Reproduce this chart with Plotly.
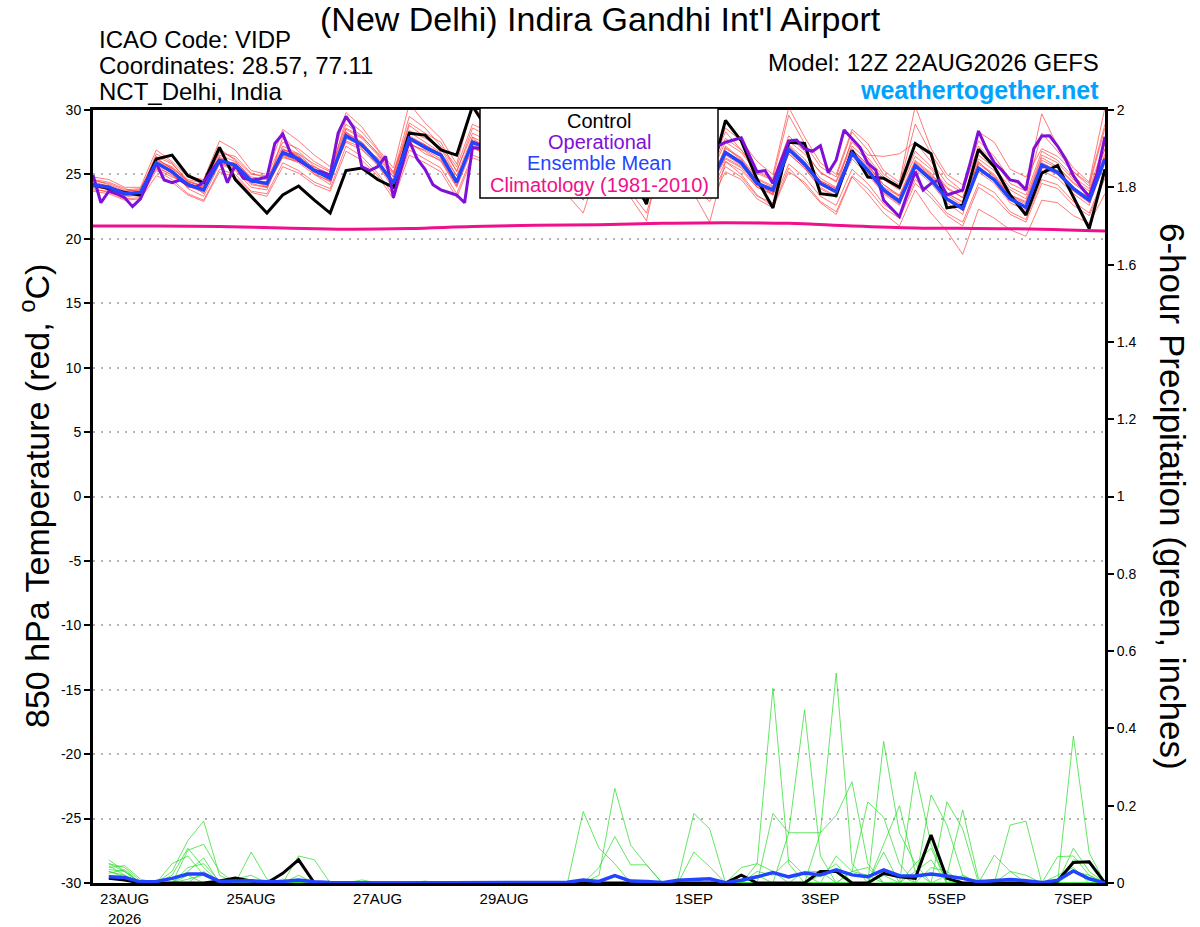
import pandas as pd
import plotly.graph_objects as go

# time axes: GEFS 6-hourly, operational GFS 3-hourly
times = pd.date_range("2026-08-22 12:00", "2026-09-07 12:00", freq="6h")
times_op = pd.date_range("2026-08-22 12:00", "2026-09-07 12:00", freq="3h")
precip_times = times[1:]
clim_times = times[::4]

tick_vals = ["2026-08-23", "2026-08-25", "2026-08-27", "2026-08-29",
             "2026-09-01", "2026-09-03", "2026-09-05", "2026-09-07"]
tick_text = ["23AUG<br>2026", "25AUG", "27AUG", "29AUG",
             "1SEP", "3SEP", "5SEP", "7SEP"]
temp_ticks = [-30, -25, -20, -15, -10, -5, 0, 5, 10, 15, 20, 25, 30]
temp_tick_text = ["-30", "-25", "-20", "-15", "-10", "-5", "0", "5", "10", "15", "20", "25", "30"]

# 850 hPa temperature (C)
control_t = [24.2, 23.9, 23.6, 23.4, 26.2, 26.5, 24.9, 24.35, 27.1, 24.6, 23.3, 22.0,
             23.4, 24.1, 23.0, 22.0, 25.3, 25.5, 24.6, 24.0, 28.2, 28.05, 26.9, 26.5,
             30.3, 28.4, 26.8, 24.9, 28.5, 27.3, 26.0, 24.4, 28.0, 26.6, 25.2, 22.7,
             27.6, 26.9, 25.5, 24.6, 29.2, 27.6, 24.6, 22.4, 27.5, 27.4, 23.5, 23.35,
             26.85, 24.8, 24.7, 24.0, 27.4, 26.6, 22.4, 22.6, 26.95, 25.6, 23.4, 21.85,
             25.1, 25.7, 23.3, 20.8, 25.4]

mean_t = [24.2, 24.0, 23.5, 23.6, 25.9, 25.2, 24.2, 23.8, 26.1, 25.7, 24.5, 24.3,
          26.7, 26.2, 25.3, 24.7, 28.0, 27.3, 26.0, 24.3, 27.8, 27.1, 26.5, 24.4,
          27.5, 27.0, 25.8, 24.6, 27.4, 26.6, 25.4, 24.3, 27.1, 26.3, 25.0, 24.1,
          27.2, 26.4, 25.2, 24.2, 26.7, 25.9, 24.3, 23.8, 26.95, 25.8, 24.3, 23.66,
          26.64, 25.34, 23.8, 22.9, 25.68, 24.6, 23.1, 22.35, 25.47, 24.57, 23.1, 22.45,
          25.73, 25.15, 23.9, 23.0, 26.2]

oper_t = [24.95, 22.8, 23.7, 23.5, 23.2, 22.5, 23.1, 24.5, 25.86, 24.57, 24.36, 24.57,
          24.2, 24.0, 24.4, 25.3, 26.12, 24.36, 25.73, 24.7, 24.57, 24.64, 24.8, 27.4,
          28.14, 26.64, 26.1, 25.7, 25.3, 25.2, 24.95, 28.2, 29.5, 28.6, 25.6, 25.3,
          25.6, 26.4, 23.2, 25.5, 27.6, 26.2, 25.4, 24.2, 23.8, 23.6, 23.4, 22.8,
          27.1, 27.0, 26.5, 25.8, 25.6, 25.0, 24.6, 26.0, 27.8, 27.4, 26.8, 26.0,
          25.6, 25.2, 24.5, 26.3, 28.2, 27.5, 26.9, 26.4, 25.8, 25.3, 24.6, 25.9,
          27.6, 27.0, 26.6, 26.0, 25.5, 25.0, 25.8, 27.2, 27.5, 27.67, 27.85, 26.5,
          25.2, 25.3, 24.3, 26.0, 27.6, 27.67, 27.0, 26.8, 27.23, 25.13, 26.12, 28.45,
          27.8, 27.1, 25.86, 25.34, 23.0, 22.4, 21.72, 23.5, 25.21, 23.79, 24.3, 24.57,
          23.4, 23.6, 23.79, 26.0, 28.37, 27.0, 25.9, 25.3, 24.57, 24.44, 23.79, 27.0,
          27.98, 28.0, 27.2, 26.2, 24.9, 24.0, 23.27, 25.08, 27.93]

clim_t = [21.0, 21.0, 20.95, 20.85, 20.75, 20.8, 20.95, 21.05, 21.1,
          21.2, 21.25, 21.2, 21.0, 20.85, 20.8, 20.75, 20.6]

members_t = [
    [24.5, 24.3, 23.8, 23.9, 26.4, 25.8, 24.6, 24.3, 26.8, 26.2, 25.0, 24.9,
     27.5, 27.0, 26.0, 25.3, 28.9, 28.0, 26.6, 25.0, 29.0, 28.2, 27.5, 25.2,
     28.6, 28.0, 26.7, 25.5, 28.3, 27.5, 26.3, 25.2, 28.0, 27.2, 25.9, 24.8,
     28.1, 27.2, 26.0, 25.1, 27.8, 26.9, 25.2, 24.6, 28.0, 26.8, 25.1, 24.5,
     27.5, 26.3, 24.8, 23.9, 26.8, 25.6, 24.0, 23.2, 26.5, 25.5, 24.0, 23.4,
     26.8, 26.1, 24.8, 23.9, 27.4],
    [23.9, 23.6, 23.1, 23.2, 25.3, 24.6, 23.5, 23.0, 25.4, 25.0, 23.7, 23.5,
     25.9, 25.3, 24.4, 23.9, 27.2, 26.4, 25.1, 23.4, 26.9, 26.2, 25.5, 23.5,
     26.5, 26.0, 24.8, 23.6, 26.5, 25.7, 24.5, 23.3, 26.0, 25.2, 24.0, 23.1,
     26.2, 25.5, 24.2, 23.2, 25.6, 24.8, 23.3, 22.8, 25.8, 24.8, 23.3, 22.6,
     25.4, 24.3, 22.7, 21.8, 24.6, 23.5, 22.0, 21.3, 24.3, 23.6, 22.1, 21.5,
     24.6, 24.2, 22.9, 22.0, 25.0],
    [24.0, 23.9, 23.4, 23.3, 26.0, 25.5, 24.4, 23.5, 26.4, 25.5, 24.2, 24.0,
     27.0, 26.4, 25.0, 24.2, 28.3, 27.5, 26.2, 24.0, 27.4, 26.8, 26.0, 24.0,
     27.0, 26.6, 25.2, 23.9, 27.0, 26.1, 24.6, 23.6, 26.5, 25.6, 24.2, 23.0,
     26.6, 25.8, 24.5, 23.4, 26.0, 25.0, 23.4, 22.5, 25.5, 24.2, 22.8, 21.9,
     24.8, 23.5, 22.0, 21.0, 23.8, 22.0, 20.6, 18.8, 22.3, 21.6, 20.7, 20.2,
     23.0, 22.8, 21.8, 21.2, 23.5],
    [24.8, 24.6, 24.0, 24.0, 26.9, 26.0, 24.8, 24.6, 27.6, 26.9, 25.3, 25.0,
     28.5, 27.6, 26.5, 25.6, 29.8, 28.7, 27.0, 25.5, 30.5, 29.0, 27.8, 25.8,
     30.4, 28.9, 27.2, 25.8, 29.2, 28.2, 26.9, 25.6, 28.8, 27.6, 26.2, 25.0,
     28.7, 27.8, 26.5, 25.5, 28.6, 27.6, 26.0, 25.0, 30.2, 27.9, 25.9, 25.0,
     28.5, 27.4, 25.3, 24.4, 30.3, 27.0, 25.0, 24.2, 27.6, 26.4, 24.6, 24.0,
     29.7, 27.2, 25.5, 24.4, 30.2],
    [24.3, 24.1, 23.3, 23.7, 25.5, 25.0, 24.0, 23.9, 26.0, 25.9, 24.7, 24.1,
     26.3, 26.0, 25.6, 24.9, 27.6, 27.1, 26.3, 24.8, 28.3, 27.5, 26.7, 24.9,
     27.9, 27.3, 26.1, 24.9, 27.6, 26.8, 25.6, 24.6, 27.4, 26.5, 25.3, 24.4,
     27.5, 26.7, 25.4, 24.5, 27.0, 26.3, 24.7, 24.1, 27.3, 26.2, 24.7, 24.0,
     26.9, 25.6, 24.2, 23.3, 26.0, 25.0, 23.5, 22.9, 25.9, 25.0, 23.4, 22.8,
     26.1, 25.5, 24.3, 23.4, 26.6],
    [24.1, 23.8, 23.6, 23.4, 26.3, 25.4, 23.9, 23.3, 25.8, 25.3, 24.0, 23.8,
     26.9, 26.5, 25.1, 24.4, 28.3, 27.0, 25.7, 23.9, 27.5, 26.6, 26.1, 24.1,
     27.9, 26.7, 25.4, 24.2, 27.0, 26.3, 25.0, 23.9, 27.6, 26.7, 25.3, 24.3,
     26.8, 26.1, 24.9, 23.8, 27.2, 26.2, 24.5, 23.4, 26.6, 25.5, 23.9, 23.2,
     26.9, 25.8, 24.0, 23.3, 25.4, 24.3, 22.8, 21.9, 25.8, 24.9, 23.3, 22.7,
     25.3, 24.7, 23.5, 22.6, 26.0],
    [24.6, 24.2, 23.7, 23.8, 26.1, 25.6, 24.5, 24.0, 26.5, 26.0, 24.8, 24.6,
     27.2, 26.6, 25.4, 24.9, 28.5, 27.8, 26.5, 24.8, 28.8, 27.9, 27.0, 24.9,
     27.2, 26.3, 24.8, 23.4, 26.0, 24.8, 23.4, 22.0, 25.8, 24.6, 23.2, 21.4,
     26.9, 26.2, 25.0, 24.0, 26.2, 25.5, 24.0, 23.4, 26.6, 25.5, 24.0, 23.3,
     27.0, 25.7, 24.2, 23.4, 26.1, 25.1, 23.6, 22.8, 26.0, 24.8, 23.4, 22.9,
     26.3, 25.6, 24.4, 23.5, 27.0],
    [23.8, 23.7, 23.2, 23.5, 25.7, 24.9, 24.1, 23.6, 26.3, 25.6, 24.3, 24.0,
     26.4, 25.9, 25.0, 24.5, 27.8, 27.2, 25.9, 24.5, 27.3, 26.9, 26.2, 24.2,
     27.6, 27.2, 26.0, 24.9, 27.8, 26.9, 25.7, 24.6, 26.8, 26.0, 24.8, 23.9,
     27.6, 26.7, 25.6, 24.5, 26.5, 25.7, 24.1, 23.6, 26.8, 25.6, 24.2, 23.5,
     26.2, 25.0, 23.5, 22.6, 25.9, 24.9, 23.4, 22.6, 25.2, 24.3, 22.8, 22.2,
     25.9, 25.3, 24.0, 23.2, 26.4],
    [24.4, 24.1, 23.6, 23.5, 25.8, 25.1, 24.0, 23.9, 26.2, 25.8, 24.6, 24.2,
     26.5, 26.1, 25.3, 24.5, 28.1, 27.4, 26.1, 24.4, 27.6, 27.2, 26.6, 24.6,
     27.7, 27.1, 25.9, 24.5, 27.3, 26.5, 25.3, 24.1, 26.4, 25.3, 23.6, 22.0,
     25.9, 25.0, 23.5, 21.3, 26.0, 25.3, 24.0, 23.5, 27.1, 26.0, 24.4, 23.8,
     26.7, 25.4, 23.9, 23.1, 25.6, 24.5, 23.0, 22.2, 25.6, 24.7, 23.2, 22.3,
     25.5, 25.0, 23.7, 22.8, 26.1],
    [24.0, 23.9, 23.5, 23.7, 25.4, 24.8, 24.3, 24.0, 25.9, 25.4, 24.4, 24.4,
     26.8, 26.3, 25.2, 24.8, 27.5, 26.9, 25.8, 24.6, 27.9, 27.3, 26.4, 24.5,
     27.3, 26.8, 25.6, 24.8, 27.5, 26.7, 25.5, 24.5, 27.3, 26.6, 25.2, 24.2,
     27.4, 26.5, 25.3, 24.3, 26.3, 25.6, 24.4, 23.9, 27.0, 25.9, 24.5, 23.9,
     26.4, 25.1, 23.6, 22.7, 25.8, 24.8, 23.2, 22.5, 25.4, 24.5, 23.0, 22.5,
     25.8, 25.2, 24.0, 23.1, 26.3],
    [24.2, 24.1, 23.5, 23.6, 26.0, 25.3, 24.3, 23.7, 26.0, 25.6, 24.4, 24.3,
     26.6, 26.4, 25.5, 24.6, 28.2, 27.5, 26.2, 24.2, 28.0, 27.3, 26.6, 24.3,
     27.4, 26.9, 25.7, 24.7, 27.1, 26.4, 25.2, 24.4, 27.3, 26.4, 25.1, 24.0,
     27.0, 26.3, 25.1, 24.1, 27.1, 26.1, 24.6, 24.0, 27.2, 26.0, 24.5, 23.9,
     27.8, 26.5, 26.4, 26.6, 27.5, 26.0, 24.3, 23.6, 28.3, 27.5, 25.4, 24.8,
     27.0, 26.4, 25.2, 24.3, 28.9],
    [24.3, 23.9, 23.4, 23.4, 25.9, 25.4, 24.1, 23.7, 25.9, 25.5, 24.5, 24.2,
     26.5, 26.0, 25.2, 24.7, 27.9, 27.3, 25.8, 24.1, 27.9, 27.0, 26.4, 24.4,
     27.4, 26.9, 25.8, 24.7, 27.2, 26.5, 25.4, 24.3, 27.2, 26.4, 25.1, 24.2,
     27.3, 26.3, 25.1, 24.2, 26.8, 26.0, 24.2, 23.6, 26.9, 25.7, 24.4, 23.7,
     26.6, 25.3, 23.7, 22.9, 25.6, 24.6, 23.1, 22.4, 25.6, 24.6, 23.2, 22.5,
     25.8, 25.2, 23.9, 23.0, 26.2],
    [24.6, 24.4, 23.9, 23.6, 26.6, 25.9, 24.4, 24.1, 27.0, 26.1, 24.6, 24.0,
     27.9, 26.8, 25.6, 25.0, 29.3, 28.3, 26.9, 25.1, 29.5, 28.6, 27.2, 25.6,
     28.9, 28.3, 26.6, 25.2, 29.0, 27.9, 26.5, 25.4, 28.4, 27.5, 26.0, 25.1,
     28.6, 27.7, 26.4, 25.4, 28.3, 26.9, 25.3, 24.7, 29.6, 27.4, 25.6, 24.8,
     28.3, 26.9, 25.0, 24.2, 28.9, 26.6, 24.7, 23.7, 27.2, 26.0, 24.3, 23.7,
     28.2, 26.8, 25.2, 24.1, 28.6],
    [23.7, 23.5, 23.0, 23.1, 24.9, 24.4, 23.4, 22.9, 25.2, 24.8, 23.6, 23.3,
     25.6, 25.1, 24.2, 23.7, 26.8, 26.1, 24.9, 23.1, 26.5, 25.9, 25.2, 23.2,
     26.3, 25.8, 24.6, 23.2, 26.2, 25.4, 24.2, 23.0, 25.7, 25.0, 23.8, 22.8,
     25.9, 25.2, 24.0, 22.9, 25.2, 24.6, 23.1, 22.4, 25.2, 24.4, 22.9, 22.1,
     24.9, 23.9, 22.4, 21.6, 24.3, 23.2, 21.8, 21.0, 24.0, 23.2, 21.9, 21.3,
     24.3, 23.9, 22.6, 21.8, 24.7],
    [24.2, 24.0, 23.7, 23.8, 26.2, 25.5, 24.5, 24.1, 26.7, 26.4, 25.1, 24.7,
     26.9, 26.6, 25.8, 25.2, 28.6, 27.9, 26.7, 25.2, 28.4, 27.8, 27.1, 25.3,
     28.2, 27.6, 26.4, 25.3, 28.0, 27.2, 26.0, 25.0, 27.8, 26.9, 25.6, 24.8,
     27.9, 27.1, 25.8, 24.9, 27.5, 26.7, 25.1, 24.5, 27.6, 26.6, 25.2, 24.4,
     27.2, 26.1, 24.6, 23.8, 26.4, 25.4, 23.9, 23.2, 26.2, 25.3, 23.8, 23.1,
     26.5, 25.9, 24.6, 23.7, 27.0],
]

# 6-hour precipitation (inches), from 22AUG 18Z
control_p = [0.012, 0.008, 0, 0, 0, 0, 0, 0.005, 0.013, 0.005, 0, 0.025,
             0.06, 0, 0, 0, 0, 0, 0, 0, 0, 0, 0, 0,
             0, 0, 0, 0, 0, 0, 0, 0, 0, 0, 0, 0,
             0, 0, 0, 0, 0.02, 0, 0, 0, 0, 0.03, 0.03, 0,
             0, 0.025, 0.016, 0.012, 0.124, 0.012, 0, 0, 0, 0, 0, 0,
             0.005, 0.053, 0.055, 0]

mean_p = [0.016, 0.014, 0.003, 0.004, 0.012, 0.023, 0.023, 0.004, 0.005, 0.006, 0.003, 0.004,
          0.008, 0.003, 0.001, 0, 0.001, 0, 0, 0, 0.001, 0, 0, 0,
          0, 0, 0, 0, 0, 0.002, 0.008, 0.004, 0.019, 0.005, 0.004, 0.001,
          0.007, 0.01, 0.011, 0.001, 0.007, 0.016, 0.027, 0.016, 0.026, 0.021, 0.034, 0.021,
          0.016, 0.034, 0.019, 0.018, 0.023, 0.018, 0.012, 0.003, 0.006, 0.009, 0.006, 0.001,
          0.007, 0.031, 0.011, 0]

members_p = [
    [0.06, 0.03, 0, 0, 0.03, 0.11, 0.16, 0.02, 0, 0, 0, 0,
     0, 0, 0, 0, 0, 0, 0, 0, 0, 0, 0, 0,
     0, 0, 0, 0, 0, 0, 0.185, 0.09, 0.05, 0, 0, 0,
     0, 0, 0, 0, 0, 0.05, 0.504, 0.05, 0, 0, 0, 0,
     0, 0.02, 0, 0.288, 0.1, 0, 0, 0, 0, 0, 0, 0,
     0, 0.09, 0.03, 0],
    [0.05, 0.04, 0.005, 0, 0, 0.085, 0.1, 0.03, 0, 0.08, 0.01, 0,
     0, 0, 0, 0, 0, 0, 0, 0, 0, 0, 0, 0,
     0, 0, 0, 0, 0, 0, 0, 0.02, 0.245, 0.098, 0.047, 0,
     0, 0, 0, 0, 0, 0, 0, 0.13, 0.448, 0.07, 0, 0,
     0, 0.366, 0.13, 0.05, 0, 0, 0, 0, 0, 0.15, 0.16, 0,
     0, 0, 0, 0],
    [0.04, 0.045, 0.01, 0, 0.05, 0.07, 0.02, 0, 0, 0, 0, 0,
     0.07, 0.06, 0, 0, 0, 0, 0, 0, 0, 0, 0, 0,
     0, 0, 0, 0, 0, 0, 0, 0, 0, 0, 0, 0,
     0.01, 0.18, 0.14, 0, 0, 0, 0, 0, 0, 0.13, 0.543, 0.05,
     0, 0, 0, 0, 0, 0.21, 0.14, 0, 0, 0, 0, 0,
     0, 0.38, 0.078, 0],
    [0.03, 0.02, 0, 0, 0, 0.04, 0.05, 0.005, 0, 0, 0, 0,
     0, 0, 0, 0, 0, 0, 0, 0, 0, 0, 0, 0,
     0, 0, 0, 0, 0, 0, 0, 0.04, 0.12, 0.047, 0.047, 0,
     0, 0, 0, 0, 0, 0, 0.18, 0.13, 0.13, 0.13, 0.175, 0.262,
     0.05, 0, 0, 0, 0, 0.02, 0.189, 0.01, 0, 0, 0, 0,
     0, 0, 0, 0],
    [0.035, 0.03, 0, 0, 0, 0.03, 0.065, 0, 0, 0, 0, 0,
     0, 0, 0, 0, 0, 0, 0, 0, 0, 0, 0, 0,
     0, 0, 0, 0, 0, 0, 0, 0, 0, 0, 0, 0,
     0, 0.08, 0.042, 0, 0, 0, 0, 0, 0, 0, 0, 0.03,
     0.21, 0.17, 0.05, 0, 0.228, 0.15, 0.02, 0, 0, 0, 0, 0,
     0.068, 0.07, 0.02, 0],
    [0.045, 0.02, 0, 0, 0.02, 0.09, 0.04, 0, 0, 0, 0, 0,
     0, 0, 0, 0, 0.008, 0, 0, 0, 0, 0, 0, 0,
     0, 0, 0, 0, 0, 0, 0, 0, 0, 0, 0, 0,
     0, 0, 0, 0, 0, 0.03, 0.02, 0.06, 0.02, 0, 0, 0,
     0, 0.1, 0.2, 0.03, 0.06, 0, 0, 0, 0.072, 0.03, 0, 0,
     0, 0, 0, 0],
    [0.025, 0.035, 0, 0, 0, 0, 0.03, 0, 0, 0, 0, 0,
     0.02, 0, 0, 0, 0, 0, 0, 0, 0, 0, 0, 0,
     0, 0, 0, 0, 0, 0, 0, 0, 0, 0, 0, 0,
     0, 0, 0, 0, 0.04, 0.05, 0.03, 0, 0, 0, 0.07, 0.03,
     0.04, 0, 0, 0.05, 0.09, 0, 0, 0, 0, 0, 0, 0,
     0, 0.06, 0.05, 0],
    [0.02, 0.01, 0, 0, 0, 0.02, 0, 0, 0.01, 0.02, 0, 0,
     0, 0, 0, 0, 0, 0, 0, 0, 0, 0, 0, 0,
     0, 0, 0, 0, 0, 0, 0, 0, 0, 0, 0, 0,
     0, 0, 0, 0, 0, 0, 0, 0, 0, 0.02, 0.05, 0,
     0, 0.08, 0, 0, 0.04, 0.03, 0, 0, 0, 0.03, 0.02, 0,
     0, 0, 0, 0],
    [0.03, 0.015, 0, 0, 0, 0, 0, 0, 0, 0, 0, 0,
     0, 0, 0, 0, 0, 0, 0, 0, 0.005, 0, 0, 0,
     0, 0, 0, 0, 0, 0, 0, 0, 0.02, 0, 0, 0,
     0, 0, 0, 0, 0, 0.02, 0, 0, 0, 0, 0, 0.03,
     0.02, 0, 0, 0.03, 0, 0, 0, 0, 0, 0, 0, 0,
     0.02, 0.04, 0, 0],
    [0.05, 0.03, 0, 0, 0, 0.01, 0.02, 0, 0, 0, 0, 0.01,
     0, 0, 0, 0, 0, 0, 0, 0, 0, 0, 0, 0,
     0, 0, 0, 0, 0, 0, 0, 0, 0, 0, 0, 0,
     0, 0, 0, 0, 0, 0, 0, 0, 0.03, 0.03, 0, 0,
     0, 0.02, 0.02, 0, 0, 0, 0.02, 0, 0, 0, 0, 0,
     0, 0.03, 0.02, 0],
]

FONT = "Liberation Sans, Arial, sans-serif"


# page-pixel position -> paper fraction of the plot area (93..1105 x 110..883)
def px(x):
    return (x - 93) / 1012


def py(y):
    return (883 - y) / 773


fig = go.Figure()

for m in members_t:
    fig.add_trace(go.Scatter(x=times, y=m, mode="lines",
                             line=dict(color="rgba(255,60,60,0.85)", width=0.8)))
for m in members_p:
    fig.add_trace(go.Scatter(x=precip_times, y=m, mode="lines", yaxis="y2",
                             line=dict(color="rgba(40,220,40,0.9)", width=0.8)))

fig.add_trace(go.Scatter(x=clim_times, y=clim_t, mode="lines",
                         line=dict(color="#f0108c", width=3, shape="spline")))
fig.add_trace(go.Scatter(x=times, y=control_t, mode="lines",
                         line=dict(color="black", width=3)))
fig.add_trace(go.Scatter(x=times_op, y=oper_t, mode="lines",
                         line=dict(color="#8010d8", width=3)))
fig.add_trace(go.Scatter(x=times, y=mean_t, mode="lines",
                         line=dict(color="#2244ff", width=3.5)))

fig.add_trace(go.Scatter(x=precip_times, y=control_p, mode="lines", yaxis="y2",
                         line=dict(color="black", width=3)))
fig.add_trace(go.Scatter(x=precip_times, y=mean_p, mode="lines", yaxis="y2",
                         line=dict(color="#2244ff", width=3.5)))

fig.update_layout(
    width=1200, height=927,
    margin=dict(l=93, r=95, t=110, b=44),
    paper_bgcolor="white", plot_bgcolor="white",
    showlegend=False,
    font=dict(family=FONT, color="black", size=14),
    xaxis=dict(
        range=[times[0], times[-1]],
        tickvals=tick_vals, ticktext=tick_text,
        showgrid=False, ticks="", showline=True, linewidth=3,
        linecolor="black", mirror=True, zeroline=False, automargin=False,
        tickfont=dict(size=15),
    ),
    yaxis=dict(
        range=[-30, 30], tickvals=temp_ticks, ticktext=temp_tick_text,
        showgrid=True, gridcolor="#b4b4b4", griddash="2px,6px", gridwidth=1.5,
        ticks="outside", ticklen=6, tickwidth=2, tickcolor="black",
        showline=True, linewidth=3, linecolor="black", zeroline=False, automargin=False,
        tickfont=dict(size=14),
    ),
    yaxis2=dict(
        range=[0, 2], dtick=0.2, tick0=0, overlaying="y", side="right",
        showgrid=False, ticks="outside", ticklen=6, tickwidth=2, tickcolor="black",
        showline=True, linewidth=3, linecolor="black", zeroline=False, automargin=False,
        tickfont=dict(size=14),
    ),
)

# legend box
fig.add_shape(type="rect", xref="paper", yref="paper",
              x0=px(480), x1=px(718), y0=py(198), y1=py(108),
              line=dict(color="black", width=1.5), fillcolor="white", layer="above")

legend_items = [("Control", "black", 121), ("Operational", "#8010d8", 142),
                ("Ensemble Mean", "#2244ff", 163),
                ("Climatology (1981-2010)", "#f0108c", 185)]
for text, color, y in legend_items:
    fig.add_annotation(text=text, xref="paper", yref="paper", x=px(599), y=py(y),
                       showarrow=False, font=dict(size=20, color=color),
                       xanchor="center", yanchor="middle")

# titles and header text
fig.add_annotation(text="(New Delhi) Indira Gandhi Int'l Airport", xref="paper", yref="paper",
                   x=px(600), y=py(19), showarrow=False, font=dict(size=34),
                   xanchor="center", yanchor="middle")
for text, y in [("ICAO Code: VIDP", 40), ("Coordinates: 28.57, 77.11", 66),
                ("NCT_Delhi, India", 92)]:
    fig.add_annotation(text=text, xref="paper", yref="paper", x=px(97), y=py(y),
                       showarrow=False, font=dict(size=24), xanchor="left", yanchor="middle")
fig.add_annotation(text="Model: 12Z 22AUG2026 GEFS", xref="paper", yref="paper",
                   x=px(1101), y=py(62), showarrow=False, font=dict(size=24),
                   xanchor="right", yanchor="middle")
fig.add_annotation(text="<b>weathertogether.net</b>", xref="paper", yref="paper",
                   x=px(1101), y=py(90), showarrow=False,
                   font=dict(size=25, color="#00a2ff"), xanchor="right", yanchor="middle")

fig.add_annotation(text="850 hPa Temperature (red, <sup>o</sup>C)", xref="paper", yref="paper",
                   x=px(34), y=py(496), showarrow=False, textangle=-90,
                   font=dict(size=34), xanchor="center", yanchor="middle")
fig.add_annotation(text="6-hour Precipitation (green, inches)", xref="paper", yref="paper",
                   x=px(1173), y=py(496), showarrow=False, textangle=90,
                   font=dict(size=35), xanchor="center", yanchor="middle")

# the page body has a default 8px margin; drop it so the figure sits at 0,0
fig.write_html("out.html", config={"displayModeBar": False},
               post_script="document.body.style.margin = '0';")
